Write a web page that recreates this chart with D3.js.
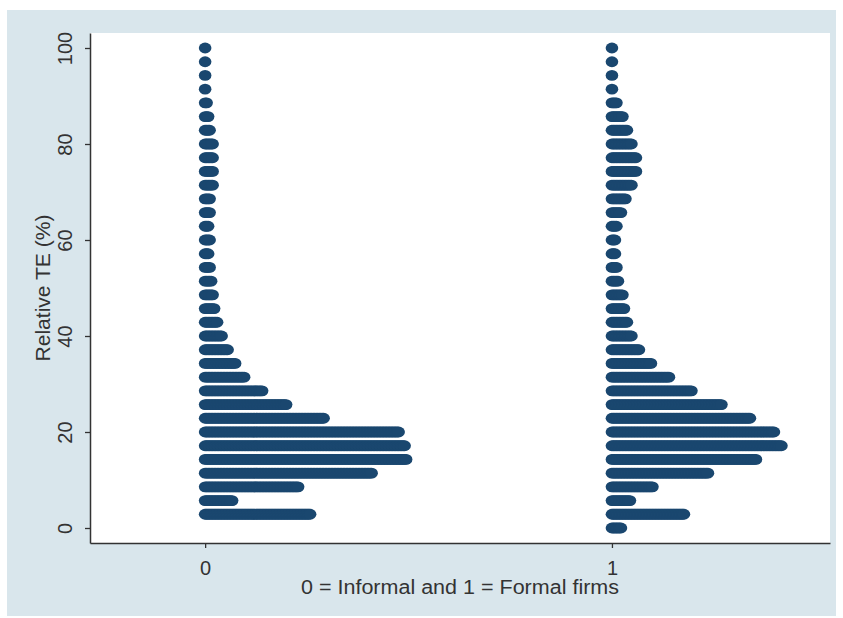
<!DOCTYPE html>
<html>
<head>
<meta charset="utf-8">
<script src="https://cdn.jsdelivr.net/npm/d3@7"></script>
<style>
    body { margin: 0; background: #fff; }
    svg  { display: block; font-family: 'Liberation Sans', Arial, sans-serif; }
</style>
</head>
<body>
<svg id="chart" width="843" height="618"></svg>
<script>
// bin midpoints of Relative TE (%), bottom to top
const bins = [0, 2.86, 5.71, 8.57, 11.43, 14.29, 17.14, 20, 22.86, 25.71, 28.57, 31.43,
    34.29, 37.14, 40, 42.86, 45.71, 48.57, 51.43, 54.29, 57.14, 60, 62.86, 65.71,
    68.57, 71.43, 74.29, 77.14, 80, 82.86, 85.71, 88.57, 91.43, 94.29, 97.14, 100];

// number of dots in each bin
const informal = [0, 71, 19, 63, 112, 135, 134, 130, 80, 55, 39, 27,
    21, 16, 12, 9, 7, 6, 5, 4, 3, 4, 3, 4,
    4, 6, 6, 6, 6, 4, 3, 2, 1, 1, 1, 1];
const formal = [7, 49, 13, 28, 65, 97, 114, 109, 93, 74, 54, 39,
    27, 19, 14, 11, 9, 8, 5, 4, 3, 3, 4, 7,
    10, 14, 17, 17, 14, 11, 8, 4, 1, 1, 1, 1];

const groups  = [0, 1];
const yTicks  = [0, 20, 40, 60, 80, 100];
const xTitle  = '0 = Informal and 1 = Formal firms';
const yTitle  = 'Relative TE (%)';

// Canvas margin
const margin = {
    l: 90,
    t: 33,
    r: 13,
    b: 75,
};

function chart() {
    const svg    = d3.select('#chart');
    const width  = +svg.attr('width');
    const height = +svg.attr('height');

    const l = margin.l;
    const r = width - margin.r;
    const t = margin.t;
    const b = height - margin.b;

    const xScale = d3.scaleLinear().domain([-0.283, 1.536]).range([l, r]);
    const yScale = d3.scaleLinear().domain([-3.125, 103.125]).range([b, t]);
    // horizontal step between stacked dots
    const offset = d3.scaleLinear().domain([0, 134]).range([0, 201]);

    // graph region + plot region
    svg.append('rect')
        .attr('x', 7).attr('y', 10)
        .attr('width', 829).attr('height', 606)
        .attr('fill', '#d9e6ec');
    svg.append('rect')
        .attr('x', l).attr('y', t)
        .attr('width', r - l).attr('height', b - t)
        .attr('fill', '#fff');

    // dots
    const series = [informal, formal];
    groups.forEach((g, gi) => {
        const rows = bins.map((v, i) => ({ v, n: series[gi][i] }));
        svg.append('g')
            .selectAll('g')
            .data(rows)
            .join('g')
            .attr('transform', d => `translate(0,${yScale(d.v)})`)
            .selectAll('ellipse')
            .data(d => d3.range(d.n))
            .join('ellipse')
            .attr('cx', i => xScale(g) + offset(i))
            .attr('cy', 0)
            .attr('rx', 6.3)
            .attr('ry', 5.4)
            .attr('fill', '#1a476f');
    });

    // axes
    const yAxis = d3.axisLeft(yScale).tickValues(yTicks).tickSize(5).tickSizeOuter(0);
    const xAxis = d3.axisBottom(xScale).tickValues(groups).tickFormat(d3.format('d'))
        .tickSize(5).tickSizeOuter(0).tickPadding(13);

    const gy = svg.append('g')
        .attr('transform', `translate(${l},0)`)
        .call(yAxis);
    gy.selectAll('text')
        .attr('x', 0).attr('y', -18).attr('dy', 0)
        .attr('text-anchor', 'middle')
        .attr('transform', 'rotate(-90)');

    const gx = svg.append('g')
        .attr('transform', `translate(0,${b})`)
        .call(xAxis);

    [gx, gy].forEach(g => {
        g.select('.domain').attr('stroke', '#333').attr('stroke-width', 1.5);
        g.selectAll('.tick line').attr('stroke', '#333').attr('stroke-width', 1.3);
        g.selectAll('text').attr('font-size', 20).attr('fill', '#333')
            .attr('font-family', "'Liberation Sans', Arial, sans-serif");
    });

    // titles
    svg.append('text')
        .attr('x', (l + r) / 2).attr('y', 594)
        .attr('text-anchor', 'middle')
        .attr('font-size', 20).attr('fill', '#333')
        .attr('textLength', 318).attr('lengthAdjust', 'spacingAndGlyphs')
        .text(xTitle);

    svg.append('text')
        .attr('transform', `translate(50,${(t + b) / 2}) rotate(-90)`)
        .attr('text-anchor', 'middle')
        .attr('font-size', 20).attr('fill', '#333')
        .attr('textLength', 147).attr('lengthAdjust', 'spacingAndGlyphs')
        .text(yTitle);
}

chart();
</script>
</body>
</html>
